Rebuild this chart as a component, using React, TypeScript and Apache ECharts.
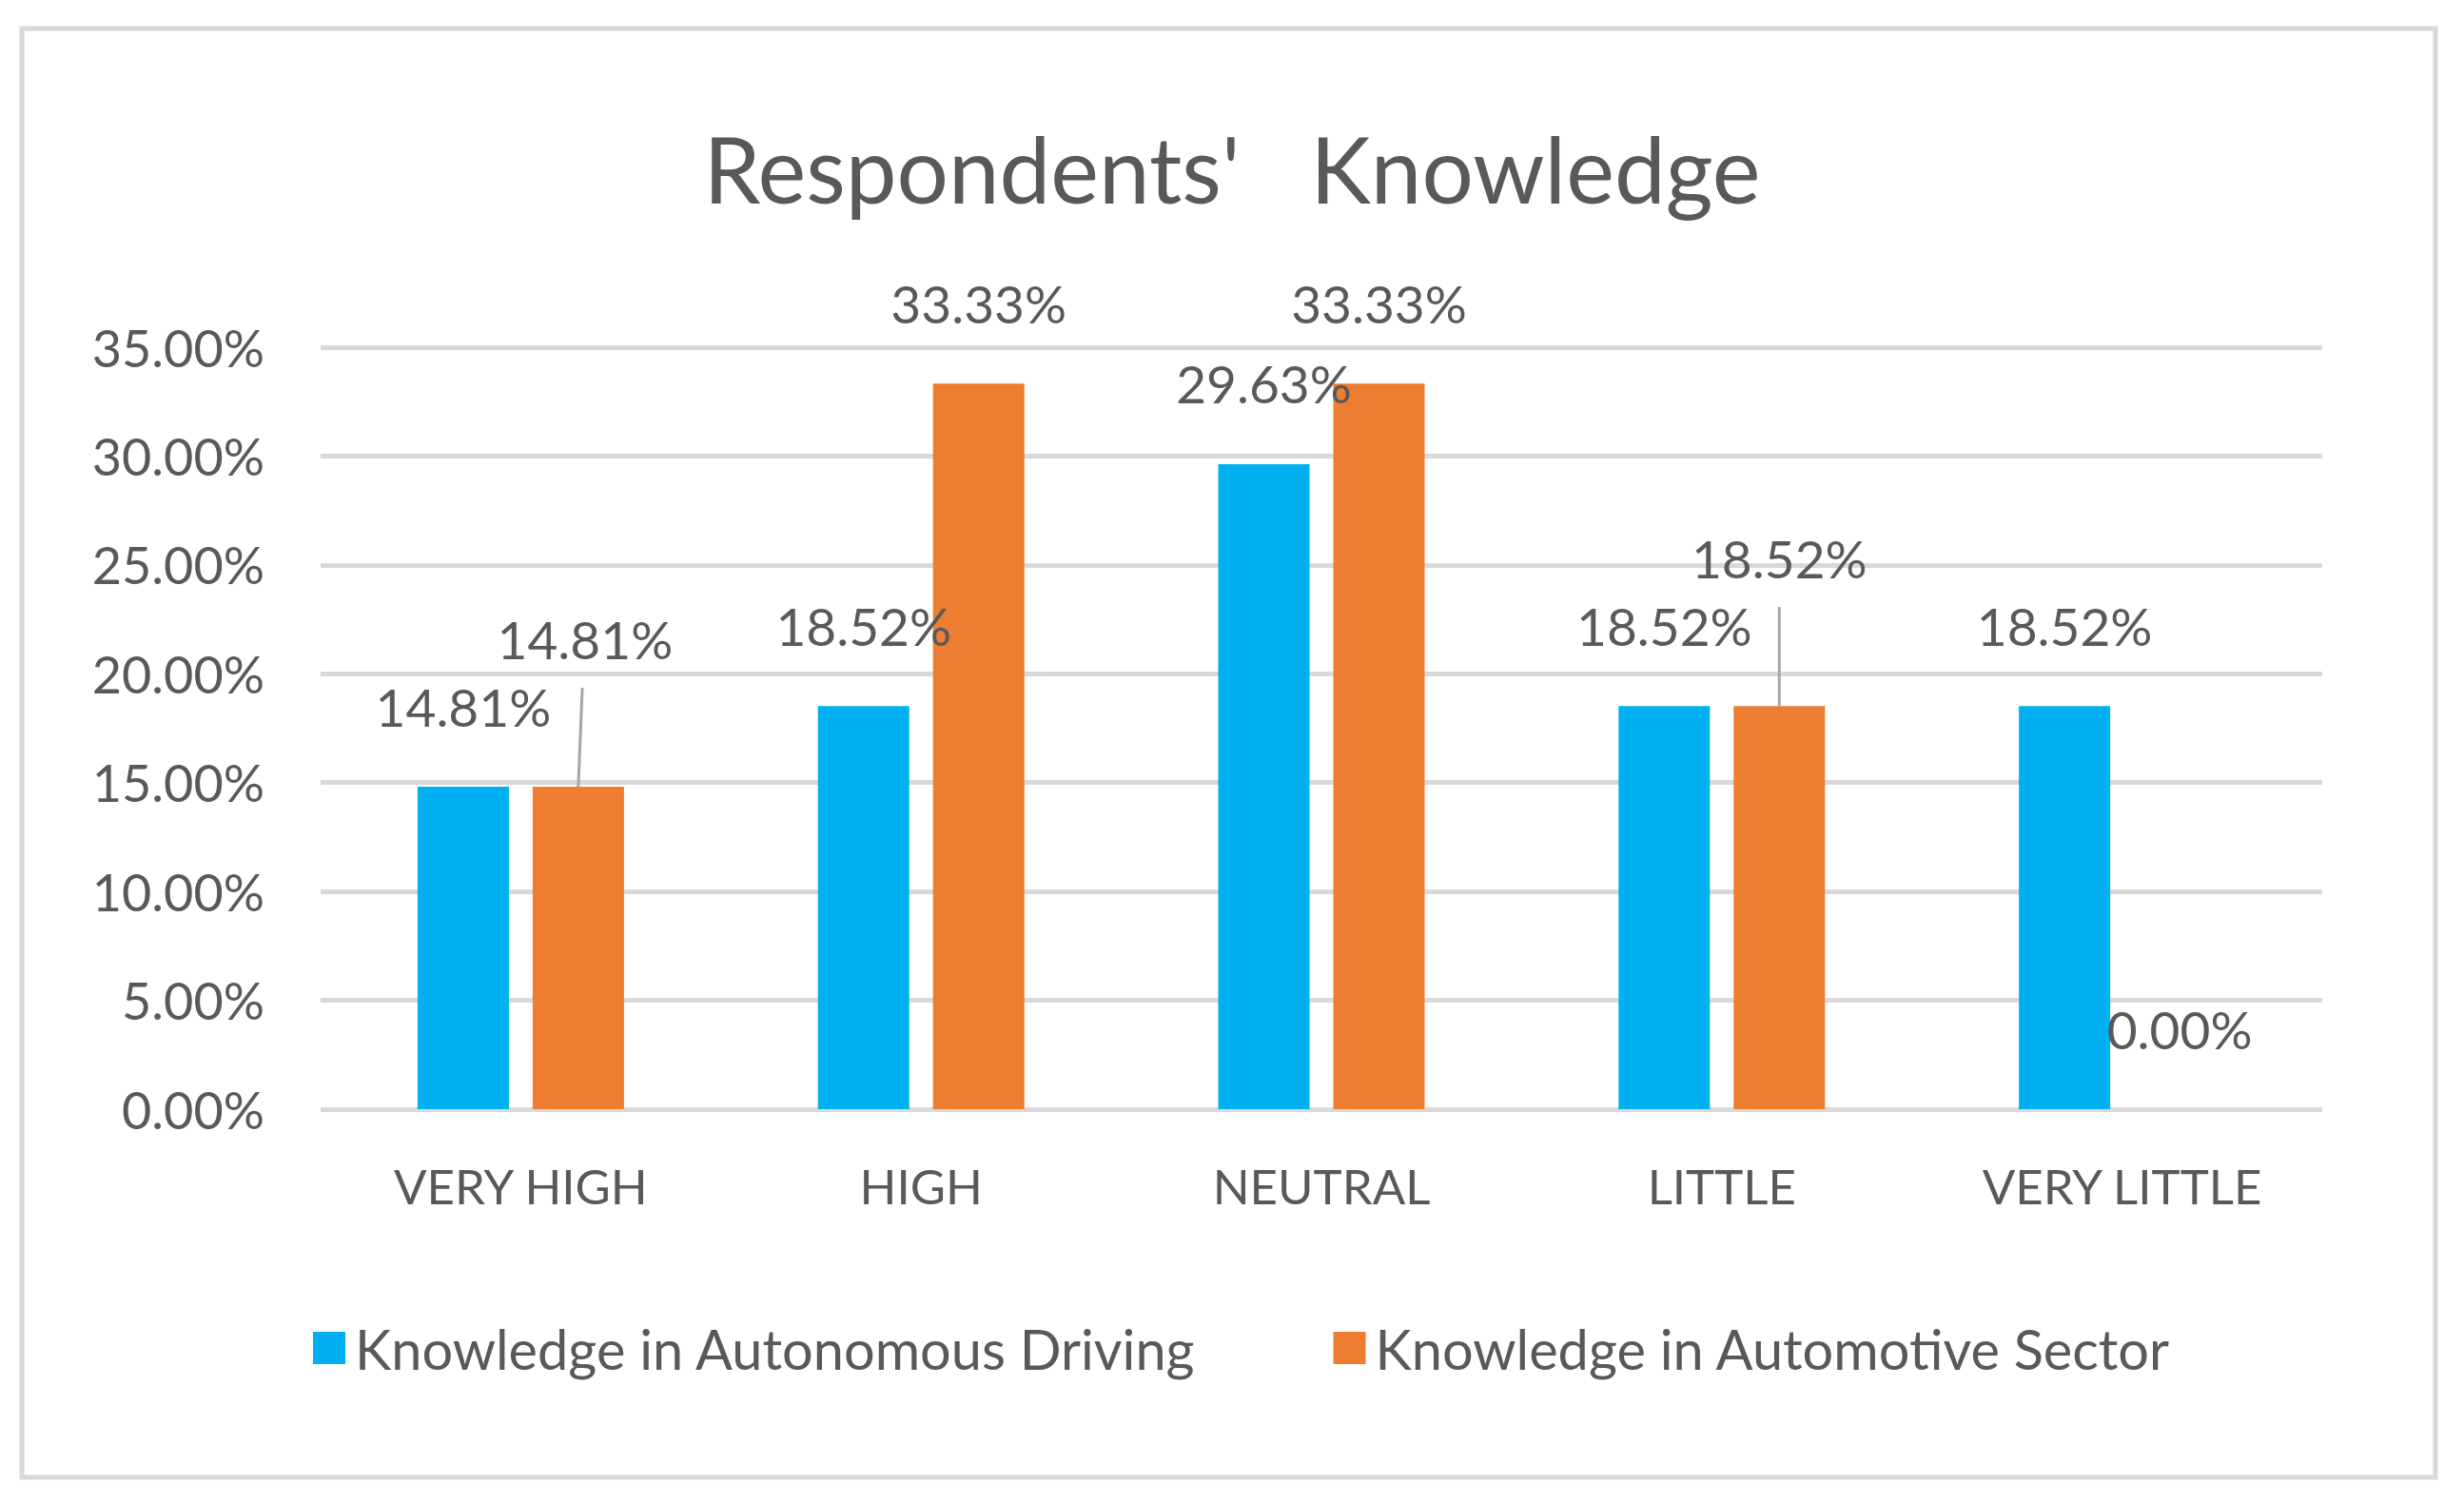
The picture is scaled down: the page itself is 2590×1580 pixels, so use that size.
import React, { useEffect, useRef } from "react";
import * as echarts from "echarts";

const categories = ["VERY HIGH", "HIGH", "NEUTRAL", "LITTLE", "VERY LITTLE"];
const autonomousDriving = [14.81, 18.52, 29.63, 18.52, 18.52];
const automotiveSector = [14.81, 33.33, 33.33, 18.52, 0.0];
const seriesNames = ["Knowledge in Autonomous Driving", "Knowledge in Automotive Sector"];
const yTicks = { min: 0, max: 35, interval: 5 };
// indices of orange labels that Excel moved up with a leader line
const movedOrangeIndices = [0, 3];

const FONT = "Lato";
const TEXT = "#595959";
const BAR_W = 96;
const BAR_GAP = 0.26;
const LABEL_SHIFT: Record<number, [number, number]> = { 0: [7, -71], 3: [0, -71] };

export default function App() {
  const ref = useRef<HTMLDivElement>(null);
  useEffect(() => {
    document.body.style.margin = "0";
    const chart = echarts.init(ref.current!, null, { renderer: "svg" });
    const fmt = (v: number) => `${v.toFixed(2)}%`;
    const labelBase = {
      show: true,
      position: "top" as const,
      distance: 57,
      fontFamily: FONT,
      fontSize: 55,
      color: TEXT,
      formatter: (p: any) => fmt(p.value),
    };
    const leaderData = movedOrangeIndices.map((i) => [i, automotiveSector[i]]);
    const orangeOffset = (BAR_W * (1 + BAR_GAP)) / 2;
    const option = {
      animation: false,
      backgroundColor: "#ffffff",
      title: {
        text: "Respondents'   Knowledge",
        left: "center",
        top: 123,
        textStyle: { fontFamily: FONT, fontSize: 96, fontWeight: "normal", color: TEXT },
      },
      graphic: [
        {
          type: "rect",
          shape: { x: 23, y: 30, width: 2537, height: 1523 },
          style: { fill: "none", stroke: "#d9d9d9", lineWidth: 5 },
          silent: true,
        },
      ],
      legend: {
        left: 324,
        top: 1383,
        itemWidth: 34,
        itemHeight: 34,
        itemGap: 144,
        icon: "rect",
        textStyle: { fontFamily: FONT, fontSize: 57.7, color: TEXT, padding: [0, 0, 0, 5] },
        data: seriesNames,
      },
      grid: { left: 337, right: 149, top: 365, bottom: 414, containLabel: false },
      xAxis: {
        type: "category",
        data: categories,
        axisLine: { show: false },
        axisTick: { show: false },
        axisLabel: { fontFamily: FONT, fontSize: 51, color: TEXT, margin: 55 },
      },
      yAxis: {
        type: "value",
        min: yTicks.min,
        max: yTicks.max,
        interval: yTicks.interval,
        axisLine: { show: false },
        axisTick: { show: false },
        splitLine: { lineStyle: { color: "#d9d9d9", width: 5 } },
        axisLabel: { fontFamily: FONT, fontSize: 54, color: TEXT, margin: 59, formatter: (v: number) => fmt(v) },
      },
      series: [
        {
          name: seriesNames[0],
          type: "bar",
          data: autonomousDriving,
          barWidth: BAR_W,
          barGap: `${BAR_GAP * 100}%`,
          itemStyle: { color: "#00b0f0" },
          label: labelBase,
        },
        {
          name: seriesNames[1],
          type: "bar",
          data: automotiveSector,
          barWidth: BAR_W,
          barGap: `${BAR_GAP * 100}%`,
          itemStyle: { color: "#ed7d31" },
          label: labelBase,
          labelLayout: (params: any) => {
            const m = LABEL_SHIFT[params.dataIndex];
            return m ? { dx: m[0], dy: m[1] } : {};
          },
        },
        {
          name: "leader",
          type: "custom",
          silent: true,
          z: 3,
          data: leaderData,
          encode: { x: 0, y: 1 },
          renderItem: (params: any, api: any) => {
            const p = api.coord([api.value(0), api.value(1)]);
            const idx = api.value(0);
            const x0 = p[0] + orangeOffset;
            const dx = (LABEL_SHIFT[idx] || [0, 0])[0] * 0.6;
            return {
              type: "line",
              shape: { x1: x0, y1: p[1], x2: x0 + dx, y2: p[1] - 104 },
              style: { stroke: "#a6a6a6", lineWidth: 3 },
            };
          },
        },
      ],
    };
    chart.setOption(option);
    return () => chart.dispose();
  }, []);
  return <div ref={ref} style={{ width: 2590, height: 1580 }} />;
}
